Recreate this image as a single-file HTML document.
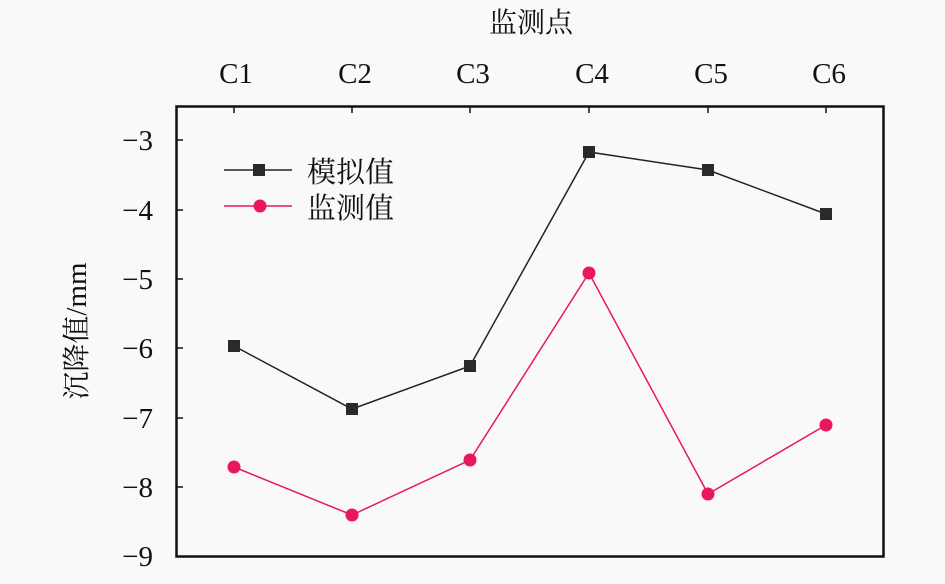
<!DOCTYPE html>
<html><head><meta charset="utf-8"><style>html,body{margin:0;padding:0;background:#f9f9f9;}</style></head>
<body>
<svg width="945" height="579" viewBox="0 0 945 579" xmlns="http://www.w3.org/2000/svg" font-family="Liberation Serif, Noto Serif CJK SC, serif">
<rect width="945" height="579" fill="#f9f9f9"/>
<rect x="176.5" y="106.5" width="707" height="450" fill="none" stroke="#111" stroke-width="2.5"/>
<g stroke="#111" stroke-width="1.5">
<line x1="177" y1="140" x2="183" y2="140"/><line x1="177" y1="210" x2="183" y2="210"/><line x1="177" y1="279" x2="183" y2="279"/><line x1="177" y1="348" x2="183" y2="348"/><line x1="177" y1="418" x2="183" y2="418"/><line x1="177" y1="487" x2="183" y2="487"/>
<line x1="234" y1="107" x2="234" y2="113"/><line x1="352" y1="107" x2="352" y2="113"/><line x1="470" y1="107" x2="470" y2="113"/><line x1="589" y1="107" x2="589" y2="113"/><line x1="708" y1="107" x2="708" y2="113"/><line x1="826" y1="107" x2="826" y2="113"/>
</g>
<g font-size="29" fill="#111" text-anchor="end">
<text x="153" y="150">−3</text><text x="153" y="220">−4</text><text x="153" y="289">−5</text><text x="153" y="358">−6</text><text x="153" y="428">−7</text><text x="153" y="497">−8</text><text x="153" y="566">−9</text>
</g>
<g font-size="29" fill="#111" text-anchor="middle">
<text x="236" y="83">C1</text><text x="355" y="83">C2</text><text x="473" y="83">C3</text><text x="592" y="83">C4</text><text x="711" y="83">C5</text><text x="829" y="83">C6</text>
<text x="531" y="32" font-family="Noto Serif CJK SC, serif" font-size="28">监测点</text>
</g>
<text transform="translate(86,331) rotate(-90)" text-anchor="middle" font-size="29" fill="#111"><tspan font-family="Noto Serif CJK SC, serif" font-size="28">沉降值</tspan>/mm</text>
<polyline points="234,346 352,409 470,366 589,152 708,170 826,214" fill="none" stroke="#222" stroke-width="1.5"/>
<g fill="#2a2a2a">
<rect x="228" y="340" width="12" height="12"/><rect x="346" y="403" width="12" height="12"/><rect x="464" y="360" width="12" height="12"/><rect x="583" y="146" width="12" height="12"/><rect x="702" y="164" width="12" height="12"/><rect x="820" y="208" width="12" height="12"/>
</g>
<polyline points="234,467 352,515 470,460 589,273 708,494 826,425" fill="none" stroke="#e8185a" stroke-width="1.5"/>
<g fill="#e8185a">
<circle cx="234" cy="467" r="6.5"/><circle cx="352" cy="515" r="6.5"/><circle cx="470" cy="460" r="6.5"/><circle cx="589" cy="273" r="6.5"/><circle cx="708" cy="494" r="6.5"/><circle cx="826" cy="425" r="6.5"/>
</g>
<line x1="224" y1="170" x2="292" y2="170" stroke="#222" stroke-width="1.5"/>
<rect x="253" y="164" width="12" height="12" fill="#2a2a2a"/>
<line x1="224" y1="206" x2="292" y2="206" stroke="#e8185a" stroke-width="1.5"/>
<circle cx="260" cy="206" r="6.5" fill="#e8185a"/>
<g font-family="Noto Serif CJK SC, serif" font-size="29" fill="#111">
<text x="307" y="182">模拟值</text><text x="307" y="218">监测值</text>
</g>
</svg>
</body></html>
